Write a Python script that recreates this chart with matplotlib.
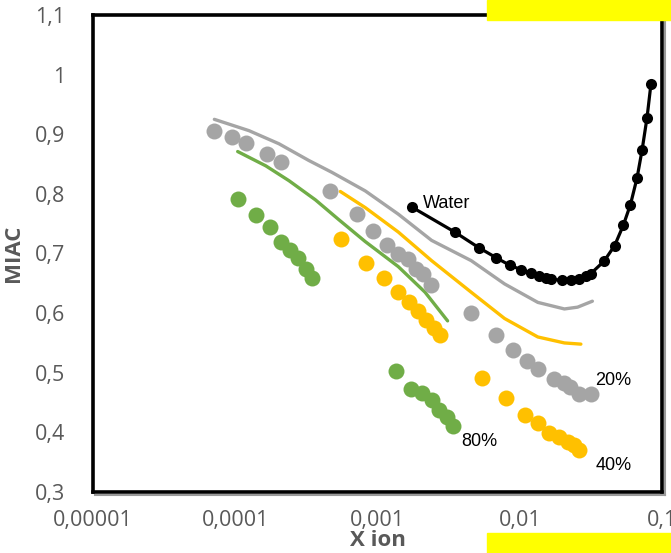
import matplotlib
matplotlib.use('Agg')
import matplotlib.pyplot as plt
from matplotlib.patches import Rectangle
from matplotlib.lines import Line2D

# water (black, markers + line)
water_x = [0.00174, 0.00349, 0.00514, 0.00682, 0.00855, 0.0102, 0.0120, 0.0137,
           0.0152, 0.0167, 0.0198, 0.0229, 0.0261, 0.0291, 0.0315, 0.0391,
           0.0464, 0.0534, 0.0600, 0.0668, 0.0725, 0.0785, 0.0837]
water_y = [0.778, 0.736, 0.710, 0.693, 0.680, 0.673, 0.667, 0.662,
           0.659, 0.657, 0.655, 0.655, 0.658, 0.662, 0.666, 0.687,
           0.713, 0.747, 0.782, 0.827, 0.874, 0.928, 0.985]

# 20 % series (grey)
grey_dot_x = [7.13e-5, 9.48e-5, 1.19e-4, 1.66e-4, 2.11e-4, 4.67e-4, 7.16e-4, 9.27e-4,
              1.17e-3, 1.40e-3, 1.63e-3, 1.85e-3, 2.10e-3, 2.36e-3, 4.56e-3, 6.82e-3,
              8.93e-3, 1.12e-2, 1.34e-2, 1.75e-2, 2.06e-2, 2.26e-2, 2.61e-2, 3.16e-2]
grey_dot_y = [0.906, 0.895, 0.886, 0.867, 0.853, 0.804, 0.767, 0.737,
              0.715, 0.699, 0.691, 0.674, 0.666, 0.648, 0.600, 0.563,
              0.538, 0.520, 0.507, 0.490, 0.482, 0.476, 0.464, 0.465]
grey_line_x = [7.13e-5, 1.25e-4, 2.03e-4, 3.29e-4, 4.79e-4, 8.20e-4, 1.40e-3,
               2.40e-3, 4.56e-3, 7.82e-3, 1.34e-2, 2.06e-2, 2.55e-2, 3.24e-2]
grey_line_y = [0.925, 0.906, 0.884, 0.856, 0.836, 0.805, 0.766,
               0.722, 0.688, 0.649, 0.618, 0.607, 0.610, 0.620]

# 40 % series (yellow)
yel_dot_x = [5.57e-4, 8.34e-4, 1.11e-3, 1.40e-3, 1.67e-3, 1.94e-3, 2.21e-3, 2.51e-3,
             2.77e-3, 5.42e-3, 8.02e-3, 1.08e-2, 1.34e-2, 1.61e-2, 1.90e-2, 2.17e-2,
             2.41e-2, 2.61e-2]
yel_dot_y = [0.725, 0.684, 0.659, 0.635, 0.618, 0.603, 0.589, 0.575,
             0.564, 0.492, 0.457, 0.429, 0.416, 0.399, 0.392, 0.384,
             0.379, 0.370]
yel_line_x = [5.48e-4, 8.20e-4, 1.40e-3, 2.40e-3, 4.56e-3, 7.82e-3, 1.34e-2,
              2.06e-2, 2.69e-2]
yel_line_y = [0.804, 0.777, 0.736, 0.688, 0.635, 0.591, 0.560, 0.550, 0.548]

# 80 % series (green)
grn_dot_x = [1.05e-4, 1.40e-4, 1.75e-4, 2.09e-4, 2.43e-4, 2.77e-4, 3.16e-4, 3.48e-4,
             1.36e-3, 1.71e-3, 2.07e-3, 2.40e-3, 2.72e-3, 3.06e-3, 3.40e-3]
grn_dot_y = [0.792, 0.764, 0.745, 0.720, 0.706, 0.692, 0.674, 0.659,
             0.503, 0.472, 0.466, 0.455, 0.437, 0.426, 0.410]
grn_line_x = [1.04e-4, 1.64e-4, 2.39e-4, 3.66e-4, 5.33e-4, 8.20e-4, 1.40e-3,
              2.16e-3, 3.11e-3]
grn_line_y = [0.871, 0.847, 0.822, 0.790, 0.757, 0.720, 0.678, 0.635, 0.587]

x_ticks = [1e-5, 1e-4, 1e-3, 1e-2, 1e-1]
x_labels = ['0,00001', '0,0001', '0,001', '0,01', '0,1']
y_ticks = [0.3, 0.4, 0.5, 0.6, 0.7, 0.8, 0.9, 1.0, 1.1]
y_labels = ['0,3', '0,4', '0,5', '0,6', '0,7', '0,8', '0,9', '1', '1,1']

GREY = '#A5A5A5'
YELLOW = '#FFC000'
GREEN = '#70AD47'
TEXT = '#595959'

fig = plt.figure(figsize=(6.71, 5.53), dpi=100)
ax = fig.add_axes([93 / 671, 1 - 492 / 553, 569 / 671, 477 / 553])

line_kw = dict(lw=2.4, zorder=2, solid_joinstyle='round', solid_capstyle='round')
ax.plot(grey_line_x, grey_line_y, color=GREY, **line_kw)
ax.plot(yel_line_x, yel_line_y, color=YELLOW, **line_kw)
ax.plot(grn_line_x, grn_line_y, color=GREEN, **line_kw)

ax.plot(grey_dot_x, grey_dot_y, 'o', color=GREY, ms=11.5, mew=0, zorder=3)
ax.plot(yel_dot_x, yel_dot_y, 'o', color=YELLOW, ms=11.5, mew=0, zorder=3)
ax.plot(grn_dot_x, grn_dot_y, 'o', color=GREEN, ms=11.5, mew=0, zorder=3)

ax.plot(water_x, water_y, '-o', color='black', lw=2.3, ms=8, mew=0, zorder=4,
        solid_joinstyle='round')

lbl = dict(family='Liberation Sans', fontsize=13, color='black', va='center')
ax.text(0.00207, 0.784, 'Water', **lbl)
ax.text(0.034, 0.487, '20%', **lbl)
ax.text(0.034, 0.345, '40%', **lbl)
ax.text(0.00386, 0.384, '80%', **lbl)

ax.set_xscale('log')
ax.set_xlim(1e-5, 1e-1)
ax.set_ylim(0.3, 1.1)
ax.set_xticks(x_ticks)
ax.set_xticklabels(x_labels)
ax.set_yticks(y_ticks)
ax.set_yticklabels(y_labels)
ax.minorticks_off()
ax.tick_params(length=0, labelsize=15.5, labelcolor=TEXT)
ax.tick_params(axis='x', pad=13)
ax.tick_params(axis='y', pad=20)
for lab in ax.get_xticklabels() + ax.get_yticklabels():
    lab.set_family('Open Sans')

ax.set_xlabel('X ion', fontsize=16, fontweight='bold', color=TEXT,
              family='Open Sans', labelpad=-1)
ax.set_ylabel('MIAC', fontsize=16, fontweight='bold', color=TEXT,
              family='Open Sans', labelpad=8)

for s in ax.spines.values():
    s.set_linewidth(2.6)
    s.set_color('black')

# grey shadow along right and bottom edge
fig.add_artist(Line2D([95 / 671, 665 / 671], [1 - 495 / 553, 1 - 495 / 553],
                      color='#9a9a9a', lw=1.5))
fig.add_artist(Line2D([665 / 671, 665 / 671], [1 - 495 / 553, 1 - 18 / 553],
                      color='#9a9a9a', lw=1.5))

# yellow boxes
fig.add_artist(Rectangle((487 / 671, 1 - 20 / 553), 184 / 671, 20 / 553,
                         transform=fig.transFigure, color='#FFFF00', zorder=10))
fig.add_artist(Rectangle((487 / 671, 0), 184 / 671, 20 / 553,
                         transform=fig.transFigure, color='#FFFF00', zorder=10))

fig.savefig('out.png', dpi=100)
